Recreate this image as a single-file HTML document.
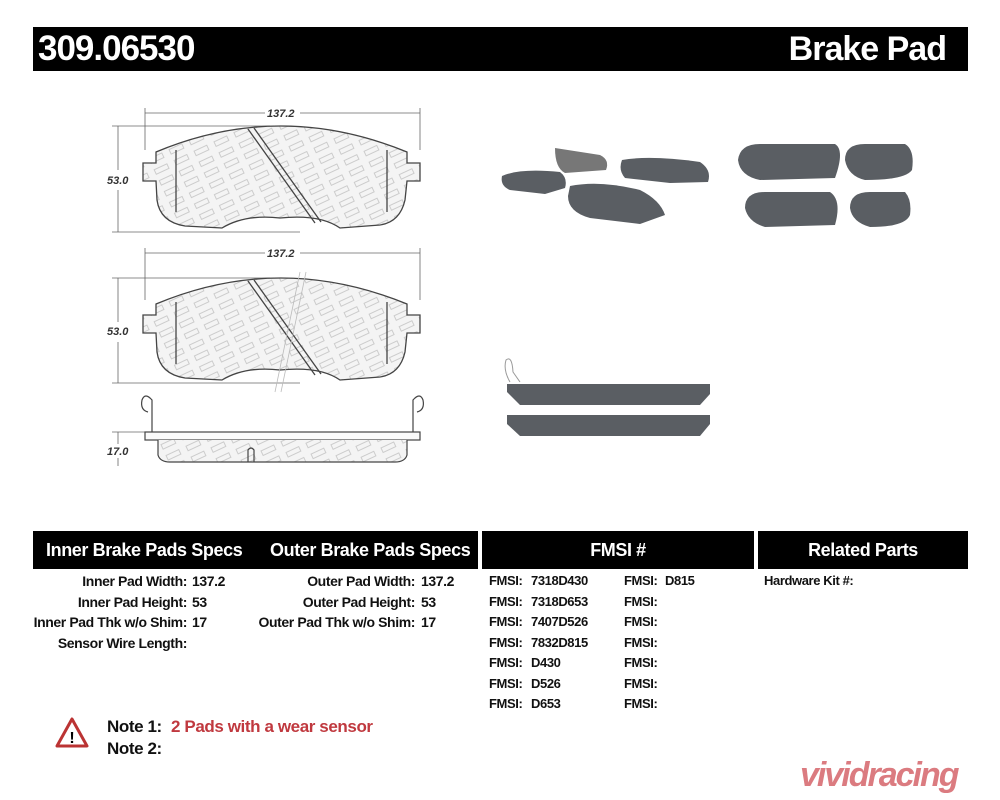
<!DOCTYPE html>
<html><head><meta charset="utf-8"><style>
body{margin:0;width:1000px;height:800px;background:#fff;position:relative;overflow:hidden;font-family:"Liberation Sans",Arial,sans-serif}
.abs{position:absolute}
.bar{background:#000;color:#fff;font-weight:bold}
.hd{position:absolute;top:531px;height:38px;background:#000;color:#fff;font-weight:bold;font-size:18px;line-height:38px;letter-spacing:-0.4px}
.t{position:absolute;font-size:14px;font-weight:bold;letter-spacing:-0.4px;color:#111;white-space:nowrap}
.r{text-align:right}
</style></head><body>
<div class="abs bar" style="left:33px;top:27px;width:935px;height:44px"></div>
<div class="abs" style="left:38px;top:27px;color:#fff;font-weight:bold;font-size:35px;line-height:44px;letter-spacing:-1px">309.06530</div>
<div class="abs" style="right:54px;top:27px;color:#fff;font-weight:bold;font-size:34px;line-height:44px;letter-spacing:-1px">Brake Pad</div>

<svg class="abs" style="left:0;top:0" width="1000" height="520" viewBox="0 0 1000 520">
<defs>
<pattern id="hp" width="22" height="12" patternUnits="userSpaceOnUse" patternTransform="rotate(-25)"><rect width="22" height="12" fill="#f4f4f4"/><rect x="2" y="3" width="14" height="5" fill="none" stroke="#ccc" stroke-width="1"/></pattern>
<path id="pad" d="M156,152 Q280,100 407,152 L407,163 L420,163 L420,181 L407,181 L405,200 Q400,222 380,225 L340,228 Q320,214 280,218 Q245,214 222,228 L185,226 Q160,222 157,200 L156,181 L143,181 L143,163 L156,163 Z" fill="url(#hp)" stroke="#444" stroke-width="1.3"/>
</defs>
<g stroke="#666" stroke-width="0.8" fill="none">
<line x1="145" y1="113" x2="265" y2="113"/><line x1="300" y1="113" x2="420" y2="113"/>
<line x1="145" y1="108" x2="145" y2="150"/><line x1="420" y1="108" x2="420" y2="150"/>
<line x1="118" y1="126" x2="118" y2="170"/><line x1="118" y1="190" x2="118" y2="232"/>
<line x1="112" y1="126" x2="270" y2="126"/><line x1="112" y1="232" x2="300" y2="232"/>
<line x1="145" y1="253" x2="265" y2="253"/><line x1="300" y1="253" x2="420" y2="253"/>
<line x1="145" y1="248" x2="145" y2="300"/><line x1="420" y1="248" x2="420" y2="300"/>
<line x1="118" y1="278" x2="118" y2="322"/><line x1="118" y1="342" x2="118" y2="383"/>
<line x1="112" y1="278" x2="270" y2="278"/><line x1="112" y1="383" x2="300" y2="383"/>
<line x1="118" y1="432" x2="118" y2="444"/><line x1="118" y1="458" x2="118" y2="466"/>
<line x1="112" y1="432" x2="160" y2="432"/>
</g>
<g fill="#333" font-family="Liberation Sans" font-style="italic" font-weight="bold" font-size="11">
<text x="267" y="117">137.2</text><text x="267" y="257">137.2</text>
<text x="107" y="184">53.0</text><text x="107" y="335">53.0</text><text x="107" y="455">17.0</text>
</g>
<use href="#pad"/>
<use href="#pad" transform="translate(0,152)"/>
<g stroke="#444" stroke-width="1.3">
<line x1="248" y1="129" x2="315" y2="223"/><line x1="254" y1="128" x2="321" y2="222"/>
<line x1="176" y1="150" x2="176" y2="212"/><line x1="387" y1="150" x2="387" y2="212"/>
<line x1="248" y1="281" x2="315" y2="375"/><line x1="254" y1="280" x2="321" y2="374"/>
<line x1="176" y1="302" x2="176" y2="364"/><line x1="387" y1="302" x2="387" y2="364"/>
</g>
<g stroke="#bbb" stroke-width="0.8"><line x1="300" y1="272" x2="275" y2="392"/><line x1="306" y1="272" x2="281" y2="392"/></g>
<g fill="none" stroke="#444" stroke-width="1.2">
<rect x="145" y="432" width="275" height="8" fill="#fafafa"/>
<path d="M158,440 L158,455 Q160,462 170,462 L395,462 Q405,462 407,455 L407,440" fill="url(#hp)"/>
<path d="M152,432 L152,400 Q145,392 142,400 Q140,410 148,412"/>
<path d="M413,432 L413,400 Q420,392 423,400 Q425,410 417,412"/>
<path d="M248,462 L248,450 Q251,446 254,450 L254,462"/>
</g>
<g fill="#5a5e63">
<path d="M502,176 Q520,168 560,172 Q568,178 565,188 L545,194 L510,190 Q500,186 502,176Z"/>
<path d="M555,148 L600,155 Q610,160 606,170 L565,173 Q555,168 555,148Z" fill="#777"/>
<path d="M622,160 Q650,155 700,162 Q712,170 708,182 L670,183 L625,178 Q618,170 622,160Z"/>
<path d="M570,186 Q600,180 640,190 Q660,200 665,215 L640,224 L590,218 Q568,212 568,196Z"/>
<path d="M738,160 Q740,144 760,144 L835,144 Q845,150 835,178 L760,180 Q740,176 738,160Z"/>
<path d="M845,160 Q845,144 865,144 L905,144 Q915,150 912,170 Q905,180 865,180 Q848,176 845,160Z"/>
<path d="M745,208 Q745,192 765,192 L830,192 Q842,200 835,225 L765,227 Q748,222 745,208Z"/>
<path d="M850,208 Q850,192 870,192 L905,192 Q912,200 910,215 Q905,227 870,227 Q852,222 850,208Z"/>
<path d="M507,384 L710,384 L710,394 L700,405 L520,405 L507,392Z"/>
<path d="M507,415 L710,415 L710,424 L700,436 L520,436 L507,424Z"/>
</g>
<path d="M510,382 Q503,370 506,360 Q512,355 513,372 L520,382" stroke="#999" fill="none"/>
</svg>

<div class="hd" style="left:33px;width:445px"><span style="margin-left:13px">Inner Brake Pads Specs</span><span style="position:absolute;left:237px">Outer Brake Pads Specs</span></div>
<div class="hd" style="left:482px;width:272px;text-align:center">FMSI #</div>
<div class="hd" style="left:758px;width:210px;text-align:center">Related Parts</div>

<div class="t r" style="right:813px;top:571px;line-height:20.5px">Inner Pad Width:<br>Inner Pad Height:<br>Inner Pad Thk w/o Shim:<br>Sensor Wire Length:</div>
<div class="t" style="left:192px;top:571px;line-height:20.5px">137.2<br>53<br>17</div>
<div class="t r" style="right:585px;top:571px;line-height:20.5px">Outer Pad Width:<br>Outer Pad Height:<br>Outer Pad Thk w/o Shim:</div>
<div class="t" style="left:421px;top:571px;line-height:20.5px">137.2<br>53<br>17</div>
<div class="t" style="left:489px;top:571px;line-height:20.5px;font-size:13px">FMSI:<br>FMSI:<br>FMSI:<br>FMSI:<br>FMSI:<br>FMSI:<br>FMSI:</div>
<div class="t" style="left:531px;top:571px;line-height:20.5px;font-size:13px">7318D430<br>7318D653<br>7407D526<br>7832D815<br>D430<br>D526<br>D653</div>
<div class="t" style="left:624px;top:571px;line-height:20.5px;font-size:13px">FMSI:<br>FMSI:<br>FMSI:<br>FMSI:<br>FMSI:<br>FMSI:<br>FMSI:</div>
<div class="t" style="left:665px;top:571px;line-height:20.5px;font-size:13px">D815</div>
<div class="t" style="left:764px;top:571px;line-height:20.5px;font-size:13px">Hardware Kit #:</div>

<svg class="abs" style="left:55px;top:717px" width="34" height="32"><path d="M17,2 L32,29 L2,29Z" fill="#fff" stroke="#b33" stroke-width="3" stroke-linejoin="round"/><text x="17" y="26" font-size="16" font-weight="bold" text-anchor="middle" font-family="Liberation Sans">!</text></svg>
<div class="t" style="left:107px;top:716px;font-size:17px;line-height:22px">Note 1:<br>Note 2:</div>
<div class="t" style="left:171px;top:716px;font-size:17px;line-height:22px;color:#c0393f">2 Pads with a wear sensor</div>
<div class="abs" style="left:800px;top:756px;font-size:34px;font-weight:bold;font-style:italic;color:#c4252c;letter-spacing:-2px;opacity:0.6">vividracing</div>
</body></html>
